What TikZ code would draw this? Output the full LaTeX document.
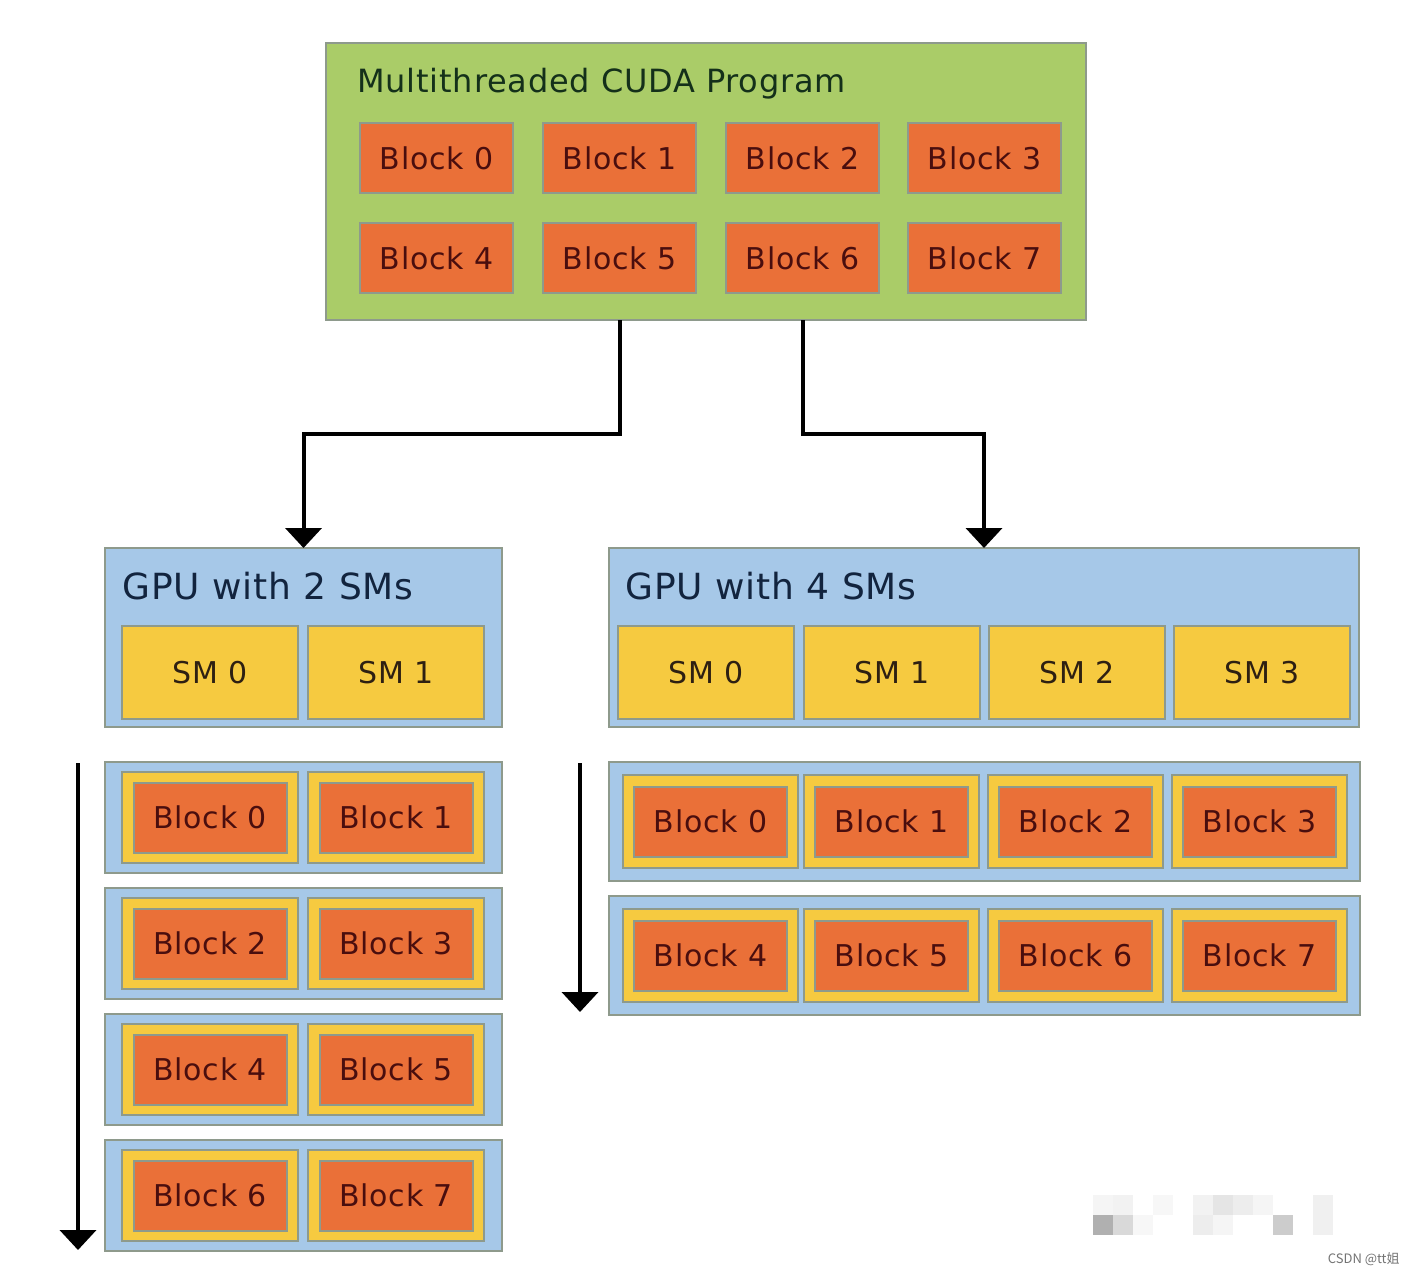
\documentclass[tikz,border=0pt]{standalone}
\usepackage{fontspec}
\setmainfont{DejaVu Sans}[LetterSpace=2.5]
\newfontfamily\cjk{Noto Sans CJK SC}
\usetikzlibrary{arrows.meta,calc}
\definecolor{cgreen}{HTML}{AACC68}
\definecolor{corange}{HTML}{EA7038}
\definecolor{cyellow}{HTML}{F6CA40}
\definecolor{cblue}{HTML}{A6C8E8}
\definecolor{cborder}{HTML}{8E9A8C}
\definecolor{tgreen}{HTML}{14301A}
\definecolor{tblock}{HTML}{4A0E0E}
\definecolor{tgpu}{HTML}{12243E}
\definecolor{tsm}{HTML}{2E2012}
\begin{document}
\begin{tikzpicture}[x=0.5pt,y=-0.5pt,
  wh/.style 2 args={minimum width=#1*0.5pt, minimum height=#2*0.5pt},
  boxbase/.style={draw=cborder, line width=1pt, inner sep=0pt, outer sep=0pt, anchor=north west},
  greenbox/.style={boxbase, fill=cgreen},
  bluebox/.style={boxbase, fill=cblue},
  yellowbox/.style={boxbase, fill=cyellow},
  smbox/.style={boxbase, fill=cyellow, text=tsm, font=\fontsize{15}{18}\selectfont},
  orangebox/.style={boxbase, fill=corange, text=tblock, font=\fontsize{15}{18}\selectfont},
  innerorange/.style={orangebox, anchor=center, wh={153}{70}},
  titletext/.style={anchor=base west, inner sep=0pt, text=tgreen, font=\fontsize{16}{19}\selectfont},
  gputext/.style={anchor=base west, inner sep=0pt, text=tgpu, font=\fontsize{18}{21}\selectfont},
  conn/.style={line width=2pt, -{Triangle[width=18pt,length=10pt]}},
  pix/.style={draw=none, anchor=north west, inner sep=0pt, outer sep=0pt, wh={20}{20}}
]
\useasboundingbox (0,0) rectangle (1416,1274);

% Program box
\node[greenbox, wh={760}{277}] (prog) at (326,43) {};
\node[titletext] (progtitle) at (357,92) {Multithreaded CUDA Program};
\foreach \i/\x/\y in {0/360/123,1/543/123,2/726/123,3/908/123,4/360/223,5/543/223,6/726/223,7/908/223}
  \node[orangebox, wh={153}{70}] (pb\i) at (\x,\y) {Block \i};

% GPU with 2 SMs
\node[bluebox, wh={397}{179}] (gpu2) at (105,548) {};
\node[gputext] (gpu2title) at (122,599) {GPU with 2 SMs};
\node[smbox, wh={176}{93}] (g2sm0) at (122,626) {SM 0};
\node[smbox, wh={176}{93}] (g2sm1) at (308,626) {SM 1};

% GPU with 4 SMs
\node[bluebox, wh={750}{179}] (gpu4) at (609,548) {};
\node[gputext] (gpu4title) at (625,599) {GPU with 4 SMs};
\foreach \i/\x in {0/618,1/804,2/989,3/1174}
  \node[smbox, wh={176}{93}] (g4sm\i) at (\x,626) {SM \i};

% Left stack
\foreach \r/\y in {0/762,1/888,2/1014,3/1140}{
  \node[bluebox, wh={397}{111}] (lrow\r) at (105,\y) {};
  \foreach \c/\x in {0/122,1/308}{
    \pgfmathtruncatemacro{\b}{2*\r+\c}
    \node[yellowbox, wh={176}{91}] (ly\b) at (\x,\y+10) {};
    \node[innerorange] (lb\b) at (ly\b.center) {Block \b};
  }
}

% Right stack
\foreach \r/\y in {0/762,1/896}{
  \node[bluebox, wh={751}{119}] (rrow\r) at (609,\y) {};
  \foreach \c/\x in {0/623,1/804,2/988,3/1172}{
    \pgfmathtruncatemacro{\b}{4*\r+\c}
    \node[yellowbox, wh={175}{93}] (ry\b) at (\x,\y+13) {};
    \node[innerorange] (rb\b) at (ry\b.center) {Block \b};
  }
}

% Connectors
\draw[conn] (pb1.south |- prog.south) -- ++(0,114) -| (gpu2.north);
\draw[conn] (pb2.south |- prog.south) -- ++(0,114) -| (gpu4.north);

\coordinate (tl1) at (78,763);
\coordinate (tl2) at (78,1250);
\coordinate (tr1) at (580,763);
\coordinate (tr2) at (580,1012);
\draw[conn] (tl1) -- (tl2);
\draw[conn] (tr1) -- (tr2);

% Blurred watermark area
\foreach \x/\y/\g in {1093/1195/96,1113/1195/95,1153/1195/97,1193/1195/95,1213/1195/90,1233/1195/93,1253/1195/96,1313/1195/94,
                     1093/1215/69,1113/1215/85,1133/1215/97,1193/1215/93,1213/1215/96,1273/1215/80,1313/1215/94}
  \node[pix, fill=black!\the\numexpr100-\g\relax] at (\x,\y) {};
\node[anchor=base east, inner sep=0pt, text=black!55, font=\cjk\fontsize{6.5}{8}\selectfont] (wm) at (1400,1263) {CSDN @tt姐};
\end{tikzpicture}
\end{document}
